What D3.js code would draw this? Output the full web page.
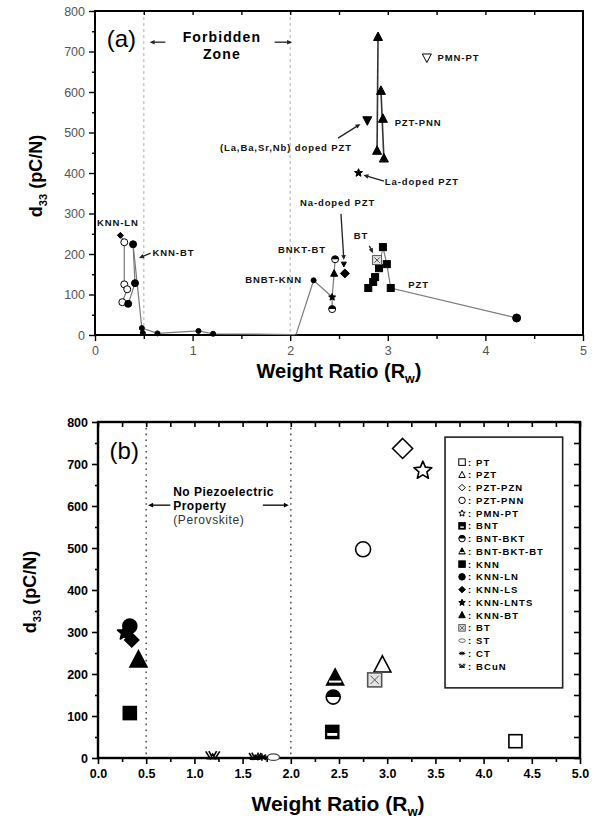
<!DOCTYPE html>
<html>
<head>
<meta charset="utf-8">
<script src="https://cdn.jsdelivr.net/npm/d3@7"></script>
<style>
  body { margin: 0; background: #fff; }
  svg { display: block; }
  text { font-family: "Liberation Sans", Arial, sans-serif; }
</style>
</head>
<body>
<svg id="chart" width="596" height="821"></svg>
<script>
// ---------------- shared ticks ----------------
const yTicks = [0, 100, 200, 300, 400, 500, 600, 700, 800];
const yMinor = [50, 150, 250, 350, 450, 550, 650, 750];
const xTicksA = [0, 1, 2, 3, 4, 5];
const xMinorA = [0.5, 1.5, 2.5, 3.5, 4.5];
const xTicksB = [0, 0.5, 1, 1.5, 2, 2.5, 3, 3.5, 4, 4.5, 5];
const xMinorB = [0.25, 0.75, 1.25, 1.75, 2.25, 2.75, 3.25, 3.75, 4.25, 4.75];

// ---------------- panel (a) data ----------------
// KNN-LN trace (open circles; first point is the small tip marker)
const knnLnRw  = [0.26, 0.30, 0.30, 0.33, 0.28];
const knnLnD33 = [246, 229, 125, 113, 81];
// KNN (filled circles)
const knnRw  = [0.39, 0.41, 0.34];
const knnD33 = [224, 128, 77];
// KNN-BT trace down to the baseline
const knnBtRw  = [0.39, 0.48, 0.64, 1.06, 1.21, 2.05];
const knnBtD33 = [224, 17, 4, 10, 3, 1];
const knnBtDotRw  = [0.48, 0.49, 0.64, 1.06, 1.21];
const knnBtDotD33 = [17, 5, 4, 10, 3];
// BNBT-KNN
const bnbtRw  = [2.06, 2.24, 2.43];
const bnbtD33 = [1, 135, 94];
// BNKT-BT
const bnktRw  = [2.43, 2.43, 2.45, 2.46];
const bnktD33 = [64, 94, 152, 187];
const bnktSym = ['circHalf', 'starFill', 'triFill', 'circHalf'];
// PZT (filled squares) and its tail
const pztRw  = [2.80, 2.85, 2.87, 2.91, 2.95, 2.99, 3.03];
const pztD33 = [116, 131, 143, 165, 217, 175, 116];
const pztLineRw  = [2.95, 2.99, 3.03, 4.32];
const pztLineD33 = [217, 175, 116, 42];
// PZT-PNN (filled triangles)
const pnnRw  = [2.90, 2.93, 2.95, 2.89, 2.96];
const pnnD33 = [736, 603, 534, 455, 436];
const pnnLineARw = [2.90, 2.89], pnnLineAD33 = [736, 455];
const pnnLineBRw = [2.93, 2.96], pnnLineBD33 = [603, 436];
// single compositions
const singleNames = ['(La,Ba,Sr,Nb) doped PZT', 'La-doped PZT', 'PMN-PT', 'Na-doped PZT', 'Na-doped PZT tip', 'BT', 'PZT end'];
const singleRw    = [2.79, 2.70, 3.40, 2.56, 2.55, 2.89, 4.32];
const singleD33   = [530, 401, 685, 152, 175, 185, 42];
const singleSym   = ['triDownFill', 'starFill', 'triDownOpen', 'diaFill', 'triDownFill', 'sqCross', 'circFill'];
const singleSize  = [9, 8, 9, 9, 5, 9, 8];

// labels in panel (a)
const labelTextA = ['(La,Ba,Sr,Nb) doped PZT', 'PMN-PT', 'PZT-PNN', 'La-doped PZT', 'Na-doped PZT', 'BT', 'BNKT-BT', 'BNBT-KNN', 'PZT', 'KNN-LN', 'KNN-BT'];
const labelRwA   = [1.28, 3.51, 3.07, 2.97, 2.10, 2.65, 1.875, 1.54, 3.21, 0.02, 0.59];
const labelD33A  = [454, 677, 516, 370, 319, 237, 202, 128, 116, 269, 195];
// leader arrows in panel (a): [Rw0, d0, Rw1, d1]
const arrowsA = [
  [2.49, 486, 2.72, 521],
  [2.96, 380, 2.75, 395],
  [2.52, 299, 2.55, 185],
  [2.81, 220, 2.85, 202],
  [0.57, 202, 0.45, 190],
  [0.72, 723, 0.56, 723],
  [1.84, 723, 2.02, 723]
];
const boundaryRw = [0.5, 2.0];

// ---------------- panel (b) data ----------------
const legendNames = ['PT', 'PZT', 'PZT-PZN', 'PZT-PNN', 'PMN-PT', 'BNT', 'BNT-BKT', 'BNT-BKT-BT', 'KNN', 'KNN-LN', 'KNN-LS', 'KNN-LNTS', 'KNN-BT', 'BT', 'ST', 'CT', 'BCuN'];
const legendSyms  = ['sqOpen', 'triOpen', 'diaOpen', 'circOpen', 'starOpen', 'sqHalf', 'circHalf', 'triHalf', 'sqFill', 'circFill', 'diaFill', 'starFill', 'triFill', 'sqCross', 'ovalOpen', 'ast', 'bcun'];
const bMaterial = ['PT', 'PZT', 'PZT-PZN', 'PZT-PNN', 'PMN-PT', 'BNT', 'BNT-BKT', 'BNT-BKT-BT', 'KNN', 'KNN-LN', 'KNN-LNTS', 'KNN-LS', 'KNN-BT', 'BT', 'ST', 'CT', 'BCuN', 'BCuN'];
const bRw  = [4.33, 2.95, 3.16, 2.75, 3.37, 2.43, 2.44, 2.46, 0.33, 0.33, 0.28, 0.35, 0.42, 2.87, 1.82, 1.70, 1.19, 1.63];
const bD33 = [40, 221, 737, 497, 686, 62, 145, 190, 107, 314, 300, 281, 233, 186, 2, 2, 4, 2];
const bSize = [13, 17, 20, 15, 18, 13, 14, 17, 13, 14, 15, 14, 17, 14, 12, 12, 14, 12];

// ---------------- scales ----------------
const xA = d3.scaleLinear().domain([0, 5]).range([95, 583]);
const yA = d3.scaleLinear().domain([0, 800]).range([335, 11]);
const xB = d3.scaleLinear().domain([0, 5]).range([98, 580]);
const yB = d3.scaleLinear().domain([0, 800]).range([758, 422]);

const svg = d3.select('#chart');

// ---------------- marker drawing ----------------
function starPath(cx, cy, R) {
  const pts = [];
  for (let i = 0; i < 10; i++) {
    const rr = i % 2 === 0 ? R : R * 0.45;
    const a = -Math.PI / 2 + i * Math.PI / 5;
    pts.push([cx + rr * Math.cos(a), cy + rr * Math.sin(a)]);
  }
  return 'M' + pts.map(p => p.join(',')).join('L') + 'Z';
}
function triPath(cx, cy, s, down) {
  const h = s * 0.5, k = down ? -1 : 1;
  return `M${cx},${cy - k * s * 0.55}L${cx + h},${cy + k * s * 0.4}L${cx - h},${cy + k * s * 0.4}Z`;
}
function drawMarker(g, type, cx, cy, s, sw) {
  const r = s / 2;
  sw = sw || 1.4;
  const stroke = '#000';
  switch (type) {
    case 'sqOpen':
    case 'sqFill':
      g.append('rect').attr('x', cx - r).attr('y', cy - r).attr('width', s).attr('height', s)
        .attr('fill', type === 'sqFill' ? '#000' : '#fff').attr('stroke', stroke).attr('stroke-width', sw);
      break;
    case 'sqHalf':
      g.append('rect').attr('x', cx - r).attr('y', cy - r).attr('width', s).attr('height', s)
        .attr('fill', '#000').attr('stroke', stroke).attr('stroke-width', sw);
      g.append('rect').attr('x', cx - r + 1.5).attr('y', cy + s * 0.08).attr('width', s - 3).attr('height', s * 0.22)
        .attr('fill', '#fff');
      break;
    case 'sqCross':
      g.append('rect').attr('x', cx - r).attr('y', cy - r).attr('width', s).attr('height', s)
        .attr('fill', '#e4e4e4').attr('stroke', '#555').attr('stroke-width', sw);
      g.append('path').attr('d', `M${cx - r * 0.6},${cy - r * 0.6}L${cx + r * 0.6},${cy + r * 0.6}M${cx + r * 0.6},${cy - r * 0.6}L${cx - r * 0.6},${cy + r * 0.6}`)
        .attr('stroke', '#555').attr('stroke-width', 1);
      break;
    case 'triOpen':
    case 'triFill':
      g.append('path').attr('d', triPath(cx, cy, s, false))
        .attr('fill', type === 'triFill' ? '#000' : '#fff').attr('stroke', stroke).attr('stroke-width', sw).attr('stroke-linejoin', 'miter');
      break;
    case 'triHalf':
      g.append('path').attr('d', triPath(cx, cy, s, false)).attr('fill', '#000').attr('stroke', stroke).attr('stroke-width', sw);
      g.append('line').attr('x1', cx - s * 0.36).attr('x2', cx + s * 0.36).attr('y1', cy + s * 0.2).attr('y2', cy + s * 0.2)
        .attr('stroke', '#fff').attr('stroke-width', Math.max(1.2, s * 0.12));
      break;
    case 'triDownOpen':
    case 'triDownFill':
      g.append('path').attr('d', triPath(cx, cy, s, true))
        .attr('fill', type === 'triDownFill' ? '#000' : '#fff').attr('stroke', stroke).attr('stroke-width', sw);
      break;
    case 'circOpen':
    case 'circFill':
      g.append('circle').attr('cx', cx).attr('cy', cy).attr('r', r)
        .attr('fill', type === 'circFill' ? '#000' : '#fff').attr('stroke', stroke).attr('stroke-width', sw);
      break;
    case 'circHalf':
      g.append('circle').attr('cx', cx).attr('cy', cy).attr('r', r).attr('fill', '#fff').attr('stroke', stroke).attr('stroke-width', sw);
      g.append('path').attr('d', `M${cx - r},${cy}A${r},${r} 0 0 1 ${cx + r},${cy}Z`).attr('fill', '#000');
      break;
    case 'ovalOpen':
      g.append('ellipse').attr('cx', cx).attr('cy', cy).attr('rx', r).attr('ry', r * 0.55)
        .attr('fill', '#fff').attr('stroke', '#444').attr('stroke-width', sw * 0.8);
      break;
    case 'diaOpen':
    case 'diaFill':
      g.append('path').attr('d', `M${cx},${cy - r}L${cx + r},${cy}L${cx},${cy + r}L${cx - r},${cy}Z`)
        .attr('fill', type === 'diaFill' ? '#000' : '#fff').attr('stroke', stroke).attr('stroke-width', sw);
      break;
    case 'starOpen':
    case 'starFill':
      g.append('path').attr('d', starPath(cx, cy + r * 0.08, r * 1.05))
        .attr('fill', type === 'starFill' ? '#000' : '#fff').attr('stroke', stroke).attr('stroke-width', sw).attr('stroke-linejoin', 'round');
      break;
    case 'ast': {
      let d = '';
      for (let i = 0; i < 4; i++) {
        const a = i * Math.PI / 4;
        d += `M${cx - r * Math.cos(a)},${cy - r * 0.6 * Math.sin(a)}L${cx + r * Math.cos(a)},${cy + r * 0.6 * Math.sin(a)}`;
      }
      g.append('path').attr('d', d).attr('stroke', '#000').attr('stroke-width', sw).attr('fill', 'none');
      break;
    }
    case 'bcun': {
      const d = `M${cx - r},${cy - r * 0.7}L${cx - r * 0.35},${cy + r * 0.35}L${cx},${cy - r * 0.3}L${cx + r * 0.35},${cy + r * 0.35}L${cx + r},${cy - r * 0.7}` +
        `M${cx - r * 0.9},${cy + r * 0.35}L${cx + r * 0.9},${cy + r * 0.35}` +
        `M${cx - r * 0.55},${cy - r * 0.75}L${cx - r * 0.2},${cy - r * 0.1}M${cx + r * 0.55},${cy - r * 0.75}L${cx + r * 0.2},${cy - r * 0.1}`;
      g.append('path').attr('d', d).attr('stroke', '#000').attr('stroke-width', sw).attr('fill', 'none');
      break;
    }
  }
}

// ---------------- axes / frame ----------------
function frame(g, x, y, o) {
  const [x0, x1] = x.range(), [y0, y1] = y.range();
  const font = o.bold ? 'bold' : 'normal';
  // left axis, majors labelled
  const left = g.append('g').attr('transform', `translate(${x0},0)`)
    .call(d3.axisLeft(y).tickValues(yTicks).tickSize(6).tickPadding(4).tickFormat(d3.format('d')));
  left.append('g').call(d3.axisLeft(y).tickValues(yMinor).tickSize(3).tickFormat(''));
  // bottom axis
  const bottom = g.append('g').attr('transform', `translate(0,${y0})`)
    .call(d3.axisBottom(x).tickValues(o.xTicks).tickSize(6).tickPadding(5).tickFormat(o.xFmt));
  bottom.append('g').call(d3.axisBottom(x).tickValues(o.xMinor).tickSize(4).tickFormat(''));
  // top inward ticks
  g.append('g').attr('transform', `translate(0,${y1})`)
    .call(d3.axisTop(x).tickValues(o.topTicks).tickSize(-o.topLen).tickFormat(''));
  // right inward ticks
  if (o.rightTicks) {
    g.append('g').attr('transform', `translate(${x1},0)`)
      .call(d3.axisRight(y).tickValues(o.rightTicks).tickSize(-6).tickFormat(''));
  }
  g.selectAll('.domain').remove();
  g.selectAll('.tick line').attr('stroke', '#000').attr('stroke-width', o.tickW);
  g.selectAll('.tick text').attr('font-size', o.tickFont).attr('font-weight', font)
    .attr('fill', o.tickColor).attr('font-family', '"Liberation Sans", Arial, sans-serif');
  g.append('rect').attr('x', x0).attr('y', y1).attr('width', x1 - x0).attr('height', y0 - y1)
    .attr('fill', 'none').attr('stroke', '#000').attr('stroke-width', o.frameW);
}

function yLabel(g, px, py, size) {
  const t = g.append('text').attr('transform', `translate(${px},${py}) rotate(-90)`)
    .attr('text-anchor', 'middle').attr('font-size', size).attr('font-weight', 'bold');
  t.append('tspan').text('d');
  t.append('tspan').attr('font-size', size * 0.62).attr('dy', size * 0.28).text('33');
  t.append('tspan').attr('dy', -size * 0.28).text(' (pC/N)');
}
function xLabel(g, px, py, size) {
  const t = g.append('text').attr('x', px).attr('y', py).attr('text-anchor', 'middle')
    .attr('font-size', size).attr('font-weight', 'bold');
  t.append('tspan').text('Weight Ratio (R');
  t.append('tspan').attr('font-size', size * 0.62).attr('dy', size * 0.24).text('w');
  t.append('tspan').attr('dy', -size * 0.24).text(')');
}
function arrow(g, x1, y1, x2, y2, color, w) {
  const ang = Math.atan2(y2 - y1, x2 - x1), L = 5, H = 2.3;
  g.append('line').attr('x1', x1).attr('y1', y1).attr('x2', x2 - Math.cos(ang) * 3).attr('y2', y2 - Math.sin(ang) * 3)
    .attr('stroke', color).attr('stroke-width', w);
  const bx = x2 - Math.cos(ang) * L, by = y2 - Math.sin(ang) * L;
  g.append('path').attr('d', `M${x2},${y2}L${bx - Math.sin(ang) * H},${by + Math.cos(ang) * H}L${bx + Math.sin(ang) * H},${by - Math.cos(ang) * H}Z`)
    .attr('fill', color);
}

// =============== panel (a) ===============
const ga = svg.append('g');

// boundary lines of the forbidden zone
ga.selectAll('line.bnd').data(boundaryRw).join('line').attr('class', 'bnd')
  .attr('x1', d => xA(d)).attr('x2', d => xA(d)).attr('y1', yA(800)).attr('y2', yA(0))
  .attr('stroke', '#bdbdbd').attr('stroke-width', 1.2).attr('stroke-dasharray', '3,3');

frame(ga, xA, yA, {
  xTicks: xTicksA, xMinor: xMinorA, xFmt: d3.format('d'),
  topTicks: [0.5, 1, 1.5, 2, 2.5, 3, 3.5, 4, 4.5], topLen: 4,
  tickFont: 12.5, tickColor: '#555', bold: false, tickW: 1.4, frameW: 2
});

const lineA = (rw, d) => d3.line()(rw.map((v, i) => [xA(v), yA(d[i])]));
const grayLines = [
  [knnLnRw, knnLnD33], [knnRw, knnD33], [knnBtRw, knnBtD33], [bnbtRw, bnbtD33],
  [bnktRw, bnktD33], [pztLineRw, pztLineD33], [pnnLineARw, pnnLineAD33], [pnnLineBRw, pnnLineBD33]
];
grayLines.forEach(([rw, d], i) => {
  ga.append('path').attr('d', lineA(rw, d)).attr('fill', 'none')
    .attr('stroke', i >= 6 ? '#333' : '#7a7a7a').attr('stroke-width', i >= 6 ? 1.6 : 1.2);
});
// extra PZT link
ga.append('path').attr('d', lineA([2.91, 2.95], [165, 217])).attr('fill', 'none').attr('stroke', '#7a7a7a').attr('stroke-width', 1);

knnLnRw.forEach((v, i) => drawMarker(ga, i === 0 ? 'diaFill' : 'circOpen', xA(v), yA(knnLnD33[i]), i === 0 ? 6 : 7, 1));
knnRw.forEach((v, i) => drawMarker(ga, 'circFill', xA(v), yA(knnD33[i]), 7, 1));
knnBtDotRw.forEach((v, i) => drawMarker(ga, 'circFill', xA(v), yA(knnBtDotD33[i]), 5, 1));
drawMarker(ga, 'circFill', xA(bnbtRw[1]), yA(bnbtD33[1]), 5, 1);
bnktRw.forEach((v, i) => drawMarker(ga, bnktSym[i], xA(v), yA(bnktD33[i]), 7, 1));
pztRw.forEach((v, i) => drawMarker(ga, 'sqFill', xA(v), yA(pztD33[i]), 7, 1));
pnnRw.forEach((v, i) => drawMarker(ga, 'triFill', xA(v), yA(pnnD33[i]), 9, 1));
singleRw.forEach((v, i) => drawMarker(ga, singleSym[i], xA(v), yA(singleD33[i]), singleSize[i], 1));

// annotations
labelTextA.forEach((t, i) => {
  ga.append('text').attr('x', xA(labelRwA[i])).attr('y', yA(labelD33A[i]))
    .attr('font-size', 9.5).attr('font-weight', 'bold').attr('letter-spacing', 0.9).attr('fill', '#111').text(t);
});
arrowsA.forEach(a => arrow(ga, xA(a[0]), yA(a[1]), xA(a[2]), yA(a[3]), '#222', 1.3));

ga.append('text').attr('x', xA(0.12)).attr('y', yA(711)).attr('font-family', '"Liberation Serif", serif')
  .attr('font-size', 24).text('(a)');
ga.append('text').attr('x', xA(1.30)).attr('y', yA(723)).attr('text-anchor', 'middle')
  .attr('font-size', 14).attr('font-weight', 'bold').attr('letter-spacing', 1.1).text('Forbidden');
ga.append('text').attr('x', xA(1.30)).attr('y', yA(681)).attr('text-anchor', 'middle')
  .attr('font-size', 14).attr('font-weight', 'bold').attr('letter-spacing', 1.1).text('Zone');

yLabel(ga, 42, 176, 18);
xLabel(ga, 339, 378, 20);

// =============== panel (b) ===============
const gb = svg.append('g');

gb.selectAll('line.bnd').data(boundaryRw).join('line').attr('class', 'bnd')
  .attr('x1', d => xB(d)).attr('x2', d => xB(d)).attr('y1', yB(800)).attr('y2', yB(0))
  .attr('stroke', '#555').attr('stroke-width', 1.6).attr('stroke-dasharray', '1.6,4.2');

frame(gb, xB, yB, {
  xTicks: xTicksB, xMinor: xMinorB, xFmt: d3.format('.1f'),
  topTicks: xTicksB.concat(xMinorB), topLen: 5,
  rightTicks: yTicks.concat(yMinor),
  tickFont: 12.5, tickColor: '#000', bold: true, tickW: 1.6, frameW: 2.4
});

bRw.forEach((v, i) => {
  const sym = legendSyms[legendNames.indexOf(bMaterial[i])];
  drawMarker(gb, sym, xB(v), yB(bD33[i]), bSize[i], 1.6);
});

// legend
const lgX0 = xB(3.6), lgX1 = xB(4.82), lgY0 = yB(764), lgY1 = yB(167);
gb.append('rect').attr('x', lgX0).attr('y', lgY0).attr('width', lgX1 - lgX0).attr('height', lgY1 - lgY0)
  .attr('fill', '#fff').attr('stroke', '#222').attr('stroke-width', 1.6);
const rowH = 12.75;
legendNames.forEach((n, i) => {
  const cy = lgY0 + 25 + i * rowH;
  drawMarker(gb, legendSyms[i], lgX0 + 17, cy, 6.5, 1);
  gb.append('text').attr('x', lgX0 + 23).attr('y', cy + 3.5).attr('font-size', 9.5).attr('font-weight', 'bold')
    .attr('letter-spacing', 1.1).text(': ' + n);
});

// annotation of the non-piezoelectric range
gb.append('text').attr('x', xB(0.12)).attr('y', yB(712)).attr('font-family', '"Liberation Serif", serif')
  .attr('font-size', 24).text('(b)');
gb.append('text').attr('x', xB(0.78)).attr('y', yB(624)).attr('font-size', 12).attr('font-weight', 'bold')
  .attr('letter-spacing', 0.5).text('No Piezoelectric');
gb.append('text').attr('x', xB(0.78)).attr('y', yB(590)).attr('font-size', 12).attr('font-weight', 'bold')
  .attr('letter-spacing', 0.5).text('Property');
gb.append('text').attr('x', xB(0.78)).attr('y', yB(557)).attr('font-size', 12).attr('fill', '#333')
  .attr('letter-spacing', 0.6).text('(Perovskite)');
arrow(gb, xB(0.75), yB(602), xB(0.52), yB(602), '#000', 1.3);
arrow(gb, xB(1.71), yB(602), xB(1.98), yB(602), '#000', 1.3);

yLabel(gb, 36, 592, 18);
xLabel(gb, 338, 811, 21);
</script>
</body>
</html>
